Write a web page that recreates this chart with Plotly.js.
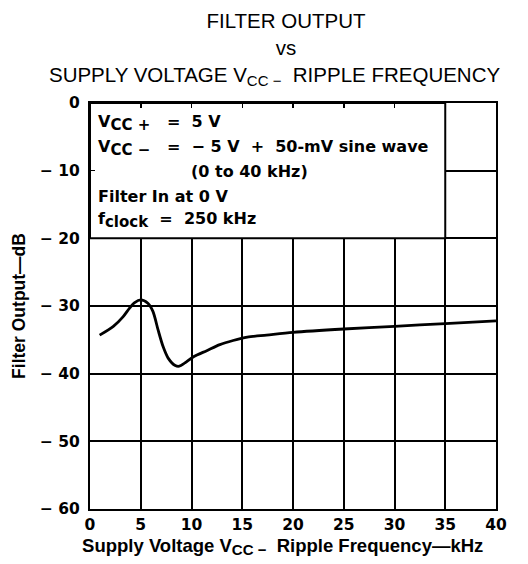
<!DOCTYPE html>
<html>
<head>
<meta charset="utf-8">
<script src="https://cdn.plot.ly/plotly-3.0.1.min.js"></script>
<style>html,body{margin:0;padding:0;background:#fff;}#chart{width:528px;height:564px;}</style>
</head>
<body>
<div id="chart"></div>
<script>
// Data
var freqKHz = [0.95, 2.3, 3.25, 3.9, 4.4, 5.0, 5.7, 6.2, 6.7, 7.2, 7.7, 8.4, 8.8, 9.35, 10.2, 11.5, 12.8, 14.1, 15.5, 17.4, 20, 25, 30, 35, 40];
var outputDB = [-34.3, -33.0, -31.6, -30.3, -29.5, -29.1, -29.6, -30.8, -33.5, -36.0, -37.7, -38.8, -38.9, -38.4, -37.5, -36.6, -35.7, -35.1, -34.6, -34.3, -33.9, -33.4, -33.0, -32.6, -32.2];
var xTickVals = [0, 5, 10, 15, 20, 25, 30, 35, 40];
var xTickText = ["0", "5", "10", "15", "20", "25", "30", "35", "40"];
var yTickVals = [0, -10, -20, -30, -40, -50, -60];
var yTickText = ["0", "\u2212 10", "\u2212 20", "\u2212 30", "\u2212 40", "\u2212 50", "\u2212 60"];

function bigSub(s, px) {
  return "<sub><span style='font-size:" + px + "px'>" + s + "</span></sub>";
}
var boxLines = [
  {text: "V" + bigSub("CC +", 15) + "   =  5 V", x: 0.6, y: -3.0},
  {text: "V" + bigSub("CC \u2212", 15) + "   =  \u2212 5 V  +  50-mV sine wave", x: 0.6, y: -6.6},
  {text: "(0 to 40 kHz)", x: 9.8, y: -10.1},
  {text: "Filter In at 0 V", x: 0.6, y: -13.8},
  {text: "f" + bigSub("clock", 15) + "  =  250 kHz", x: 0.6, y: -17.3}
];

var FONT = "Liberation Sans, Arial, Helvetica, sans-serif";
var WIDE = "DejaVu Sans, Verdana, sans-serif";
var NB = "\u00a0\u00a0\u00a0\u00a0";

var trace = {
  x: freqKHz, y: outputDB, type: "scatter", mode: "lines",
  line: {color: "#000", width: 2.8, shape: "spline", smoothing: 0.8},
  hoverinfo: "skip"
};

var annotations = boxLines.map(function (b) {
  return {
    xref: "x", yref: "y", x: b.x, y: b.y, text: "<b>" + b.text + "</b>",
    showarrow: false, xanchor: "left", yanchor: "middle",
    font: {family: WIDE, size: 16, color: "#000"}
  };
});

var layout = {
  width: 528, height: 564,
  margin: {l: 90, r: 32, t: 103, b: 55},
  paper_bgcolor: "#fff", plot_bgcolor: "#fff",
  showlegend: false,
  title: {
    text: "<span>" + NB + "FILTER OUTPUT</span><br>" + NB + "vs<br>SUPPLY VOLTAGE V" + bigSub("CC \u2212", 15) + "  RIPPLE FREQUENCY",
    x: 0.52, xanchor: "center", y: 0.95, yanchor: "top",
    font: {family: FONT, size: 20.5, color: "#000"}
  },
  xaxis: {
    range: [0, 40], tickvals: xTickVals, ticktext: xTickText,
    showgrid: true, gridcolor: "#000", gridwidth: 2,
    showline: true, linecolor: "#000", linewidth: 2, mirror: "ticks",
    ticks: "inside", ticklen: 5, tickwidth: 1.5, tickcolor: "#000",
    zeroline: false, fixedrange: true, ticklabelstandoff: 0,
    tickfont: {family: WIDE, size: 15.5, color: "#000", weight: "bold"},
    title: {text: "<b>Supply Voltage V" + bigSub("CC \u2212", 15) + "  Ripple Frequency\u2014kHz" + NB + "</b>", standoff: 6,
      font: {family: FONT, size: 18.5, color: "#000"}}
  },
  yaxis: {
    range: [-60, 0], tickvals: yTickVals, ticktext: yTickText,
    showgrid: true, gridcolor: "#000", gridwidth: 2,
    showline: true, linecolor: "#000", linewidth: 2, mirror: "ticks",
    ticks: "inside", ticklen: 5, tickwidth: 1.5, tickcolor: "#000",
    zeroline: false, fixedrange: true, ticklabelstandoff: 5,
    tickfont: {family: WIDE, size: 15.5, color: "#000", weight: "bold"},
    title: {text: "<b>Filter Output\u2014dB</b>", standoff: 10,
      font: {family: FONT, size: 17.5, color: "#000"}}
  },
  shapes: [{
    type: "rect", xref: "x", yref: "y", x0: 0, x1: 35, y0: -20, y1: 0,
    fillcolor: "#fff", line: {color: "#000", width: 2}, layer: "between"
  }],
  annotations: annotations
};

Plotly.newPlot("chart", [trace], layout, {staticPlot: true, displayModeBar: false});
</script>
</body>
</html>
